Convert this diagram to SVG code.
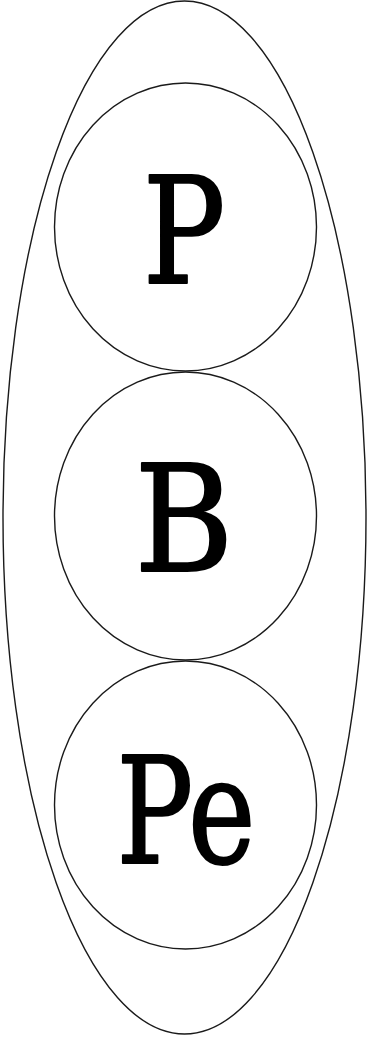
<svg xmlns="http://www.w3.org/2000/svg" width="368" height="1037" viewBox="0 0 368 1037">
<style>
.o{fill:none;stroke:#1a1a1a;stroke-width:1.4}
.t{font-family:'DejaVu Serif','Liberation Serif',serif;font-size:148px;fill:#000;stroke:#000;stroke-width:2.2;stroke-linejoin:round;text-anchor:middle}
</style>
<rect width="368" height="1037" fill="#fff"/>
<g id="outer"><ellipse class="o" cx="184.5" cy="517.5" rx="181.5" ry="516.5"/></g>
<g id="node-P"><ellipse class="o" cx="185.5" cy="227" rx="131" ry="144"/><text class="t" transform="translate(184 283) scale(0.83 1)">P</text></g>
<g id="node-B"><ellipse class="o" cx="185.5" cy="516" rx="131" ry="144"/><text class="t" transform="translate(184 571) scale(0.91 1)">B</text></g>
<g id="node-Pe"><ellipse class="o" cx="185.5" cy="805" rx="131" ry="144"/><text class="t" transform="translate(186 863) scale(0.77 1)">Pe</text></g>
<g id="connectors"></g>
</svg>
